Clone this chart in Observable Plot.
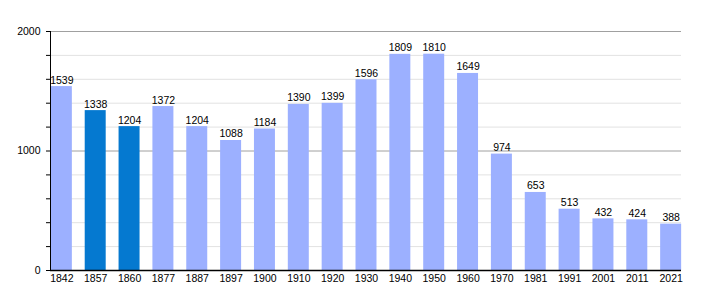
<!DOCTYPE html>
<html>
<head>
<meta charset="utf-8">
<script src="https://cdn.jsdelivr.net/npm/d3@7"></script>
<script src="https://cdn.jsdelivr.net/npm/@observablehq/plot@0.6"></script>
<style>
  body { margin: 0; background: #fff; }
</style>
</head>
<body>
<div id="chart"></div>
<script>
const years = ["1842","1857","1860","1877","1887","1897","1900","1910","1920","1930","1940","1950","1960","1970","1981","1991","2001","2011","2021"];
const population = [1539,1338,1204,1372,1204,1088,1184,1390,1399,1596,1809,1810,1649,974,653,513,432,424,388];
const highlighted = ["1857","1860"];
const yLabelTicks = [0, 1000, 2000];
const yMinorTicks = [0,200,400,600,800,1000,1200,1400,1600,1800,2000];
const minorGrid = [200,400,600,800,1200,1400,1600,1800];
const majorGrid = [1000, 2000];

const data = years.map((y, i) => ({year: y, value: population[i], hl: highlighted.includes(y)}));

const chart = Plot.plot({
  width: 710,
  height: 300,
  marginLeft: 50,
  marginRight: 29,
  marginTop: 31,
  marginBottom: 30,
  style: {fontFamily: "'Liberation Sans', Arial, sans-serif", fontSize: "10px", color: "#000", background: "#fff"},
  x: {domain: years, padding: 0.38, round: false, range: [38, 694], label: null},
  y: {domain: [0, 2000], label: null},
  marks: [
    Plot.gridY(minorGrid, {stroke: "#e2e2e2", strokeOpacity: 1}),
    Plot.gridY(majorGrid, {stroke: "#a0a0a0", strokeOpacity: 1}),
    Plot.barY(data, {x: "year", y: "value", fill: d => d.hl ? "#0579d0" : "#9cb0ff"}),
    Plot.text(data, {x: "year", y: "value", text: d => String(d.value), lineAnchor: "bottom", dy: -3, fill: "#000", fontSize: 10.5}),
    Plot.axisY(yMinorTicks, {tickSize: 4, text: null, stroke: "#000"}),
    Plot.axisY(yLabelTicks, {tickSize: 0, tickPadding: 10, fontSize: 10.5, fill: "#000", tickFormat: d => String(d)}),
    Plot.axisX({tickSize: 0, tickPadding: 4, fontSize: 10.5, fill: "#000"}),
    Plot.frame({anchor: "left", stroke: "#000"}),
    Plot.ruleY([0], {stroke: "#000", strokeWidth: 1.3})
  ]
});
document.getElementById("chart").appendChild(chart);
</script>
</body>
</html>
